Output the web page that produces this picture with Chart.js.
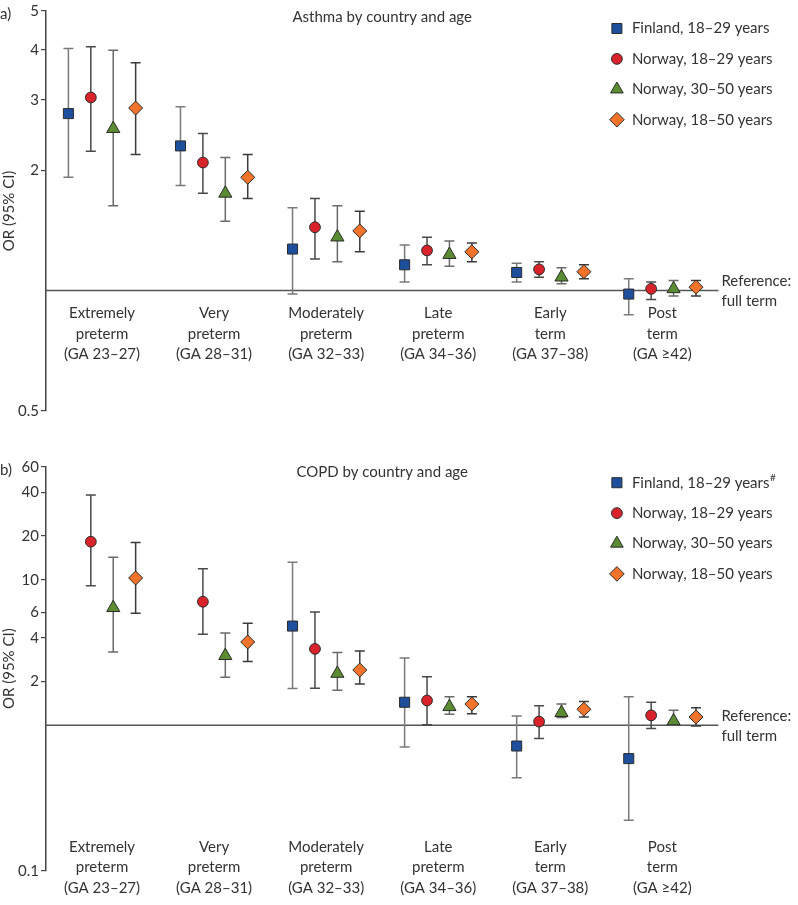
<!DOCTYPE html>
<html><head><meta charset="utf-8">
<script src="https://cdn.jsdelivr.net/npm/chart.js@4.4.0/dist/chart.umd.min.js"></script>
<style>
html,body{margin:0;padding:0;background:#fff;}
#wrap{position:relative;width:798px;height:905px;overflow:hidden;}
canvas{position:absolute;left:0;}
</style></head><body>
<div id="wrap">
<canvas id="a" width="798" height="440" style="top:0"></canvas>
<canvas id="b" width="798" height="465" style="top:440px"></canvas>
</div>
<script>
// ---------- DATA ----------
const categories = [
  ['Extremely', 'preterm', '(GA 23–27)'],
  ['Very', 'preterm', '(GA 28–31)'],
  ['Moderately', 'preterm', '(GA 32–33)'],
  ['Late', 'preterm', '(GA 34–36)'],
  ['Early', 'term', '(GA 37–38)'],
  ['Post', 'term', '(GA ≥42)']
];
const seriesNames = ['Finland, 18–29 years', 'Norway, 18–29 years', 'Norway, 30–50 years', 'Norway, 18–50 years'];

const asthmaTicks = [5, 4, 3, 2, 0.5];
const copdTicks = [60, 40, 20, 10, 6, 4, 2, 0.1];

// Asthma OR and 95% CI
const asthmaFinland1829 = [2.77, 2.30, 1.27, 1.16, 1.11, 0.98];
const asthmaFinland1829Lo = [1.92, 1.83, 0.98, 1.05, 1.05, 0.87];
const asthmaFinland1829Hi = [4.03, 2.88, 1.61, 1.30, 1.17, 1.07];
const asthmaNorway1829 = [3.04, 2.09, 1.44, 1.26, 1.13, 1.01];
const asthmaNorway1829Lo = [2.23, 1.75, 1.20, 1.16, 1.08, 0.95];
const asthmaNorway1829Hi = [4.07, 2.47, 1.70, 1.36, 1.18, 1.05];
const asthmaNorway3050 = [2.54, 1.75, 1.36, 1.23, 1.08, 1.01];
const asthmaNorway3050Lo = [1.63, 1.49, 1.18, 1.15, 1.04, 0.97];
const asthmaNorway3050Hi = [3.99, 2.15, 1.63, 1.33, 1.14, 1.06];
const asthmaNorway1850 = [2.86, 1.92, 1.41, 1.25, 1.115, 1.02];
const asthmaNorway1850Lo = [2.19, 1.70, 1.25, 1.18, 1.07, 0.97];
const asthmaNorway1850Hi = [3.71, 2.19, 1.58, 1.315, 1.16, 1.06];

// COPD OR and 95% CI
const copdFinland1829 = [null, null, 4.81, 1.44, 0.72, 0.59];
const copdFinland1829Lo = [null, null, 1.79, 0.71, 0.436, 0.222];
const copdFinland1829Hi = [null, null, 13.2, 2.90, 1.16, 1.57];
const copdNorway1829 = [18.3, 7.07, 3.35, 1.48, 1.06, 1.17];
const copdNorway1829Lo = [9.1, 4.22, 1.80, 1.01, 0.81, 0.95];
const copdNorway1829Hi = [38.3, 11.9, 6.02, 2.16, 1.36, 1.44];
const copdNorway3050 = [6.43, 3.01, 2.27, 1.34, 1.22, 1.07];
const copdNorway3050Lo = [3.19, 2.14, 1.74, 1.19, 1.13, 1.00];
const copdNorway3050Hi = [14.3, 4.31, 3.16, 1.57, 1.40, 1.27];
const copdNorway1850 = [10.3, 3.74, 2.40, 1.40, 1.29, 1.14];
const copdNorway1850Lo = [5.89, 2.75, 1.92, 1.20, 1.14, 0.99];
const copdNorway1850Hi = [18.1, 5.04, 3.24, 1.57, 1.46, 1.32];

// ---------- STYLE ----------
const FONT = 'Lato, "Source Sans Pro", "Open Sans", sans-serif';
const TXT = '#333333';
const styles = [
  {pointStyle: 'rect', radius: 7.1, color: '#1d4f9c', err: '#7a7a7a'},
  {pointStyle: 'circle', radius: 5.4, color: '#d9232a', err: '#4a4a4a'},
  {pointStyle: 'triangle', radius: 7.6, color: '#5b8c32', err: '#6a6a6a'},
  {pointStyle: 'rectRot', radius: 7.0, color: '#f2742a', err: '#3a3a3a'}
];
const offsets = [-0.3, -0.1, 0.1, 0.3];

function buildDatasets(vals, los, his) {
  return vals.map((arr, s) => ({
    label: seriesNames[s],
    data: arr.map((v, i) => ({x: i + offsets[s], y: v, lo: los[s][i], hi: his[s][i]})),
    pointStyle: styles[s].pointStyle,
    pointRadius: styles[s].radius,
    pointHoverRadius: styles[s].radius,
    backgroundColor: styles[s].color,
    borderColor: '#2b2b2b',
    borderWidth: 1,
    showLine: false,
    errColor: styles[s].err
  }));
}

function drawMarker(ctx, style, x, y, r, fill) {
  ctx.save();
  ctx.beginPath();
  if (style === 'rect') {
    const h = Math.SQRT1_2 * r;
    ctx.rect(x - h, y - h, 2 * h, 2 * h);
  } else if (style === 'circle') {
    ctx.arc(x, y, r, 0, Math.PI * 2);
  } else if (style === 'triangle') {
    ctx.moveTo(x, y - r);
    ctx.lineTo(x + r * Math.sin(Math.PI * 2 / 3), y - r * Math.cos(Math.PI * 2 / 3));
    ctx.lineTo(x + r * Math.sin(Math.PI * 4 / 3), y - r * Math.cos(Math.PI * 4 / 3));
  } else {
    ctx.moveTo(x, y - r); ctx.lineTo(x + r, y); ctx.lineTo(x, y + r); ctx.lineTo(x - r, y);
  }
  ctx.closePath();
  ctx.fillStyle = fill; ctx.fill();
  ctx.lineWidth = 1; ctx.strokeStyle = '#2b2b2b'; ctx.stroke();
  ctx.restore();
}

const forestPlugin = {
  id: 'forest',
  beforeDatasetsDraw(chart, args, o) {
    const ctx = chart.ctx, ca = chart.chartArea, xs = chart.scales.x, ys = chart.scales.y;
    // reference line at OR = 1
    const y1 = ys.getPixelForValue(1);
    ctx.save();
    ctx.strokeStyle = '#555'; ctx.lineWidth = 1.5;
    ctx.beginPath(); ctx.moveTo(ca.left, y1); ctx.lineTo(ca.right, y1); ctx.stroke();
    // error bars
    chart.data.datasets.forEach(ds => {
      ctx.strokeStyle = ds.errColor; ctx.lineWidth = 1.5;
      ds.data.forEach(p => {
        if (p.y == null) return;
        const x = xs.getPixelForValue(p.x);
        const a = ys.getPixelForValue(p.lo), b = ys.getPixelForValue(p.hi);
        ctx.beginPath();
        ctx.moveTo(x, a); ctx.lineTo(x, b);
        ctx.moveTo(x - 5, a); ctx.lineTo(x + 5, a);
        ctx.moveTo(x - 5, b); ctx.lineTo(x + 5, b);
        ctx.stroke();
      });
    });
    ctx.restore();
  },
  afterDraw(chart, args, o) {
    const ctx = chart.ctx, ca = chart.chartArea, xs = chart.scales.x, ys = chart.scales.y;
    const y1 = ys.getPixelForValue(1);
    ctx.save();
    ctx.fillStyle = TXT;
    ctx.font = '15px ' + FONT;
    ctx.textBaseline = 'middle';
    // panel letter
    ctx.textAlign = 'left';
    ctx.fillText(o.panel, 0, ca.top + 3);
    // title
    ctx.textAlign = 'center';
    ctx.fillText(o.title, (ca.left + ca.right) / 2, ca.top + o.titleDy);
    // reference label
    ctx.textAlign = 'left';
    ctx.fillText('Reference:', ca.right + 3, y1 - 9.5);
    ctx.fillText('full term', ca.right + 3, y1 + 10.5);
    // category labels
    ctx.textAlign = 'center';
    const baseY = o.labelsAtRef ? y1 + 23 : ca.bottom - 23.5;
    categories.forEach((lines, i) => {
      const x = xs.getPixelForValue(i);
      lines.forEach((t, k) => ctx.fillText(t, x, baseY + k * 20.3));
    });
    // legend
    const lx = ca.right - 101.5, tx = ca.right - 86.5;
    chart.data.datasets.forEach((ds, s) => {
      const y = ca.top + o.legendDy + s * 30.4;
      drawMarker(ctx, styles[s].pointStyle, lx, y, styles[s].pointStyle === 'circle' ? 5.4 : (styles[s].pointStyle === 'rect' ? 7.1 : 7.3), styles[s].color);
      ctx.fillStyle = TXT;
      ctx.textAlign = 'left';
      ctx.font = '15px ' + FONT;
      ctx.fillText(ds.label, tx, y);
      if (o.finlandMark && s === 0) {
        const w = ctx.measureText(ds.label).width;
        ctx.font = '10px ' + FONT;
        ctx.fillText('#', tx + w + 0.5, y - 5);
        ctx.font = '15px ' + FONT;
      }
    });
    ctx.restore();
  }
};

function makeOptions(min, max, ticks, padding, plug) {
  return {
    responsive: false,
    animation: false,
    devicePixelRatio: 1,
    layout: {padding: padding},
    plugins: {legend: {display: false}, tooltip: {enabled: false}, title: {display: false}, forest: plug},
    scales: {
      x: {type: 'linear', min: -0.5, max: 5.5, display: false},
      y: {
        type: 'logarithmic', min: min, max: max,
        afterBuildTicks: s => { s.ticks = ticks.map(v => ({value: v})); },
        afterFit: s => { s.width = 46; },
        ticks: {callback: v => String(v), font: {family: FONT, size: 15}, color: TXT, padding: 2, autoSkip: false, maxRotation: 0},
        grid: {drawOnChartArea: false, drawTicks: true, tickLength: 5, color: '#444', lineWidth: 1.2},
        border: {display: true, color: '#444', width: 1.5},
        title: {display: true, text: 'OR (95% CI)', font: {family: FONT, size: 15}, color: TXT, padding: 0}
      }
    }
  };
}

new Chart(document.getElementById('a'), {
  type: 'scatter',
  data: {datasets: buildDatasets(
    [asthmaFinland1829, asthmaNorway1829, asthmaNorway3050, asthmaNorway1850],
    [asthmaFinland1829Lo, asthmaNorway1829Lo, asthmaNorway3050Lo, asthmaNorway1850Lo],
    [asthmaFinland1829Hi, asthmaNorway1829Hi, asthmaNorway3050Hi, asthmaNorway1850Hi])},
  options: makeOptions(0.5, 5, asthmaTicks, {left: 0, right: 79.6, top: 7, bottom: 29},
    {panel: 'a)', title: 'Asthma by country and age', titleDy: 6, labelsAtRef: true, legendDy: 17.5, finlandMark: false}),
  plugins: [forestPlugin]
});

new Chart(document.getElementById('b'), {
  type: 'scatter',
  data: {datasets: buildDatasets(
    [copdFinland1829, copdNorway1829, copdNorway3050, copdNorway1850],
    [copdFinland1829Lo, copdNorway1829Lo, copdNorway3050Lo, copdNorway1850Lo],
    [copdFinland1829Hi, copdNorway1829Hi, copdNorway3050Hi, copdNorway1850Hi])},
  options: makeOptions(0.1, 60, copdTicks, {left: 0, right: 79.6, top: 26.7, bottom: 34.3},
    {panel: 'b)', title: 'COPD by country and age', titleDy: 5.6, labelsAtRef: false, legendDy: 16, finlandMark: true}),
  plugins: [forestPlugin]
});
</script>
</body></html>
